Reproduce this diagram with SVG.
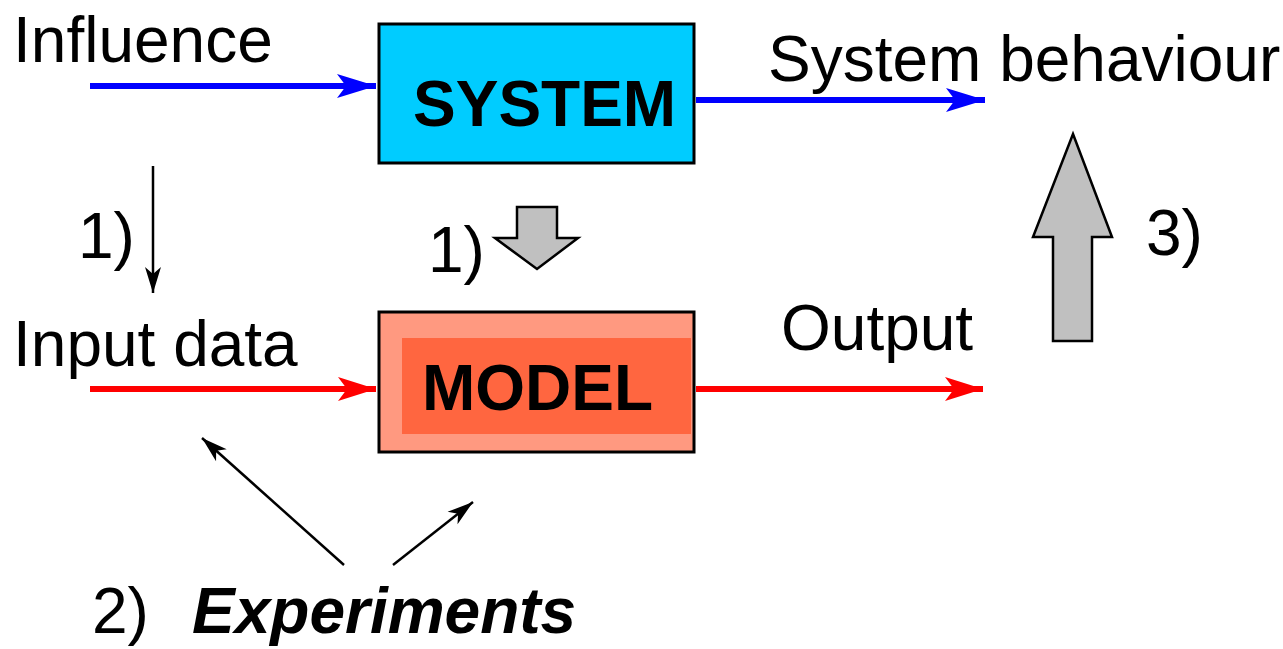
<svg xmlns="http://www.w3.org/2000/svg" width="1283" height="649" viewBox="0 0 1283 649">
<style>
text{font-family:"Liberation Sans",Arial,sans-serif;font-size:64px;fill:#000}
.b{font-weight:bold}
.bi{font-weight:bold;font-style:italic}
.box{stroke:#000;stroke-width:3}
.gray{fill:#c0c0c0;stroke:#000;stroke-width:2.5;stroke-linejoin:miter}
.blue{stroke:#0000ff;stroke-width:6;fill:none}
.red{stroke:#ff0000;stroke-width:6;fill:none}
.thin{stroke:#000;stroke-width:2.5;fill:none}
</style>
<defs>
<marker id="ab" markerUnits="userSpaceOnUse" markerWidth="50" markerHeight="30" viewBox="-40 -15 50 30" refX="0" refY="0" orient="auto"><path d="M0,0 L-39,-12 L-30,0 L-39,12 Z" fill="#0000ff"/></marker>
<marker id="ar" markerUnits="userSpaceOnUse" markerWidth="50" markerHeight="30" viewBox="-40 -15 50 30" refX="0" refY="0" orient="auto"><path d="M0,0 L-38,-12 L-29,0 L-38,12 Z" fill="#ff0000"/></marker>
<marker id="ak" markerUnits="userSpaceOnUse" markerWidth="40" markerHeight="20" viewBox="-30 -10 40 20" refX="0" refY="0" orient="auto"><path d="M0,0 L-26,-8 L-19,0 L-26,8 Z" fill="#000"/></marker>
</defs>
<g id="system"><rect class="box" x="379" y="24" width="315" height="139" fill="#00ccff"/><text class="b" x="413" y="126">SYSTEM</text></g>
<g id="model"><rect class="box" x="379" y="312" width="315" height="140" fill="#ff9980"/><rect x="402" y="338" width="289" height="96" fill="#ff6640"/><text class="b" x="422" y="410">MODEL</text></g>
<g id="labels">
<text x="13" y="62">Influence</text>
<text x="768" y="81">System behaviour</text>
<text x="13" y="366">Input data</text>
<text x="781" y="350">Output</text>
<text x="78" y="258">1)</text>
<text x="428" y="272">1)</text>
<text x="1146" y="255">3)</text>
<text x="92" y="633">2)</text>
<text class="bi" x="192" y="633">Experiments</text>
</g>
<g id="connectors">
<line class="blue" x1="90" y1="86" x2="376" y2="86" marker-end="url(#ab)"/>
<line class="blue" x1="696" y1="100" x2="985" y2="100" marker-end="url(#ab)"/>
<line class="red" x1="90" y1="389" x2="376" y2="389" marker-end="url(#ar)"/>
<line class="red" x1="696" y1="389" x2="983" y2="389" marker-end="url(#ar)"/>
<line class="thin" x1="153" y1="166" x2="153" y2="293" marker-end="url(#ak)"/>
<line class="thin" x1="344" y1="565" x2="202" y2="438" marker-end="url(#ak)"/>
<line class="thin" x1="393" y1="565" x2="473" y2="502" marker-end="url(#ak)"/>
<polygon id="down-arrow" class="gray" points="517,207 557,207 557,238 578,238 537,269 495,238 517,238"/>
<polygon id="up-arrow" class="gray" points="1073,134 1112,237 1092,237 1092,341 1053,341 1053,237 1033,237"/>
</g>
</svg>
